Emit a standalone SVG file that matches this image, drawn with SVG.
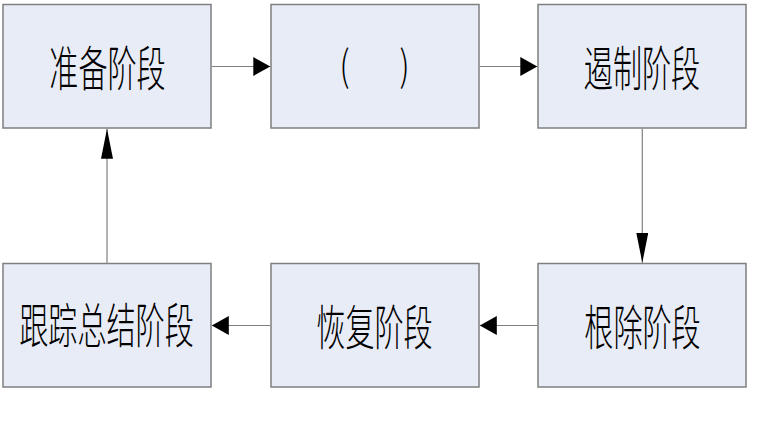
<svg xmlns="http://www.w3.org/2000/svg" width="767" height="424" viewBox="0 0 767 424">
<style>
.box rect{fill:#e8ecf6;stroke:#7f7f7f;stroke-width:1.5}
.box text{font-family:"Noto Sans CJK SC","Noto Sans CJK JP",sans-serif;font-size:30px;font-weight:300;fill:#000;text-anchor:middle;dominant-baseline:central}
.conn line{stroke:#808080;stroke-width:1.2;fill:none}
</style>
<defs>
<marker id="ah" markerUnits="userSpaceOnUse" markerWidth="18" markerHeight="20" refX="17" refY="9.5" orient="auto"><path d="M0,0 L17,9.5 L0,19 Z" fill="#000"/></marker>
<marker id="av" markerUnits="userSpaceOnUse" markerWidth="31" markerHeight="13" refX="30" refY="6" orient="auto"><path d="M0,0 L30,6 L0,12 Z" fill="#000"/></marker>
</defs>
<rect width="767" height="424" fill="#fff"/>
<g id="n1" class="box"><rect x="3" y="4.5" width="208" height="123.5"/><text transform="translate(107.5,64.5) scale(0.97,1.6)">准备阶段</text></g>
<g id="n2" class="box"><rect x="271" y="4.5" width="208" height="123.5"/><text transform="translate(0,63) scale(1,1.3)" style="font-size:32px"><tspan x="344.5">(</tspan><tspan x="404.5">)</tspan></text></g>
<g id="n3" class="box"><rect x="538" y="4.5" width="208" height="123.5"/><text transform="translate(642,64.5) scale(0.97,1.6)">遏制阶段</text></g>
<g id="n4" class="box"><rect x="538" y="263.5" width="208" height="123.5"/><text transform="translate(642.5,323.5) scale(0.97,1.6)">根除阶段</text></g>
<g id="n5" class="box"><rect x="271" y="263.5" width="208" height="123.5"/><text transform="translate(374.5,323.5) scale(0.97,1.6)">恢复阶段</text></g>
<g id="n6" class="box"><rect x="3" y="263.5" width="208" height="123.5"/><text transform="translate(106.5,322) scale(0.97,1.6)">跟踪总结阶段</text></g>
<g id="connectors" class="conn">
<line x1="211.8" y1="66.5" x2="270.3" y2="66.5" marker-end="url(#ah)"/>
<line x1="479.8" y1="66.5" x2="537.3" y2="66.5" marker-end="url(#ah)"/>
<line x1="642.3" y1="128.8" x2="642.3" y2="262.8" marker-end="url(#av)"/>
<line x1="537.3" y1="325.5" x2="479.8" y2="325.5" marker-end="url(#ah)"/>
<line x1="270.3" y1="325.5" x2="211.8" y2="325.5" marker-end="url(#ah)"/>
<line x1="107" y1="262.8" x2="107" y2="128.8" marker-end="url(#av)"/>
</g>
</svg>
